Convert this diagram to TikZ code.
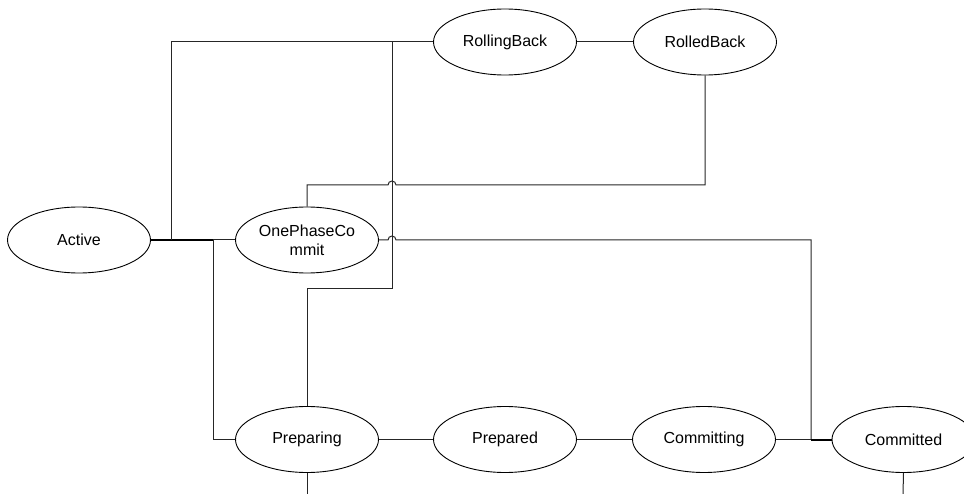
\documentclass[tikz,border=0pt]{standalone}
\usepackage{fontspec}
\setmainfont{Liberation Sans}
\usetikzlibrary{shapes.geometric}
\begin{document}
\begin{tikzpicture}[x=1pt,y=-1pt,
  state/.style={draw=black,line width=0.9pt,ellipse,minimum width=143pt,minimum height=66pt,
    inner sep=0pt,align=center,font=\fontsize{16}{19}\selectfont},
  wire/.style={draw=black!85,line width=1pt},
  heavy/.style={draw=black,line width=2pt}]
\useasboundingbox (0,0) rectangle (964,494);
\clip (0,0) rectangle (964,494);
% states
\node[state] (active) at (79,240) {Active};
\node[state] (opc) at (307,240) {OnePhaseCo\\mmit};
\node[state] (rolling) at (505,42) {RollingBack};
\node[state] (rolled) at (705,42) {RolledBack};
\node[state] (preparing) at (307,439.5) {Preparing};
\node[state] (prepared) at (505,439.5) {Prepared};
\node[state] (committing) at (704,439.5) {Committing};
\node[state] (committed) at (903.5,439.5) {Committed};
% free ends at the lower border
\coordinate (prepEnd) at (307,494);
\coordinate (cmtEnd) at (903,494);
% Active fan-out
\draw[heavy] (active.east) -- (213,240);
\draw[wire] (213,240) -- (opc.west);
\draw[wire] (171,240) -- (171,42) -- (rolling.west);
\draw[wire] (213,240) -- (213,439.5) -- (preparing.west);
% Preparing -> RollingBack
\draw[wire] (preparing.north) -- (307,289) -- (392,289) -- (392,42) -- (rolling.west);
% OnePhaseCommit -> RolledBack (hops over the vertical)
\draw[wire] (opc.north) -- (307,185) -- (388,185)
  arc[start angle=180,end angle=0,radius=4pt] -- (705,185) -- (rolled.south);
% OnePhaseCommit -> Committed (hops over the vertical)
\draw[wire] (opc.east) -- (388,240)
  arc[start angle=180,end angle=0,radius=4pt] -- (811,240) -- (811,439.5);
\draw[heavy] (811,439.5) -- (committed.west);
% chain along the bottom
\draw[wire] (rolling.east) -- (rolled.west);
\draw[wire] (preparing.east) -- (prepared.west);
\draw[wire] (prepared.east) -- (committing.west);
\draw[wire] (committing.east) -- (811,439.5);
\draw[wire] (preparing.south) -- (prepEnd);
\draw[wire] (committed.south) -- (cmtEnd);
\end{tikzpicture}
\end{document}
